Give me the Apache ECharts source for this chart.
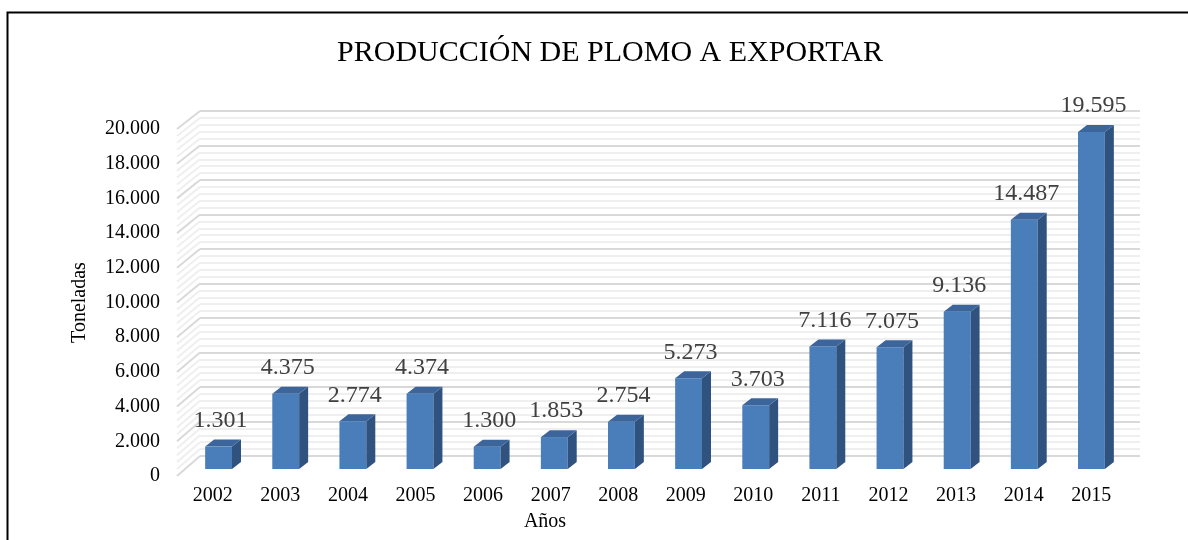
<!DOCTYPE html>
<html>
<head>
<meta charset="utf-8">
<script src="https://cdn.jsdelivr.net/npm/echarts@6/dist/echarts.min.js"></script>
<style>html,body{margin:0;padding:0;background:#fff}#c{width:1188px;height:540px}</style>
</head>
<body>
<div id="c"></div>
<script>
const categories = ['2002','2003','2004','2005','2006','2007','2008','2009','2010','2011','2012','2013','2014','2015'];
const values = [1301, 4375, 2774, 4374, 1300, 1853, 2754, 5273, 3703, 7116, 7075, 9136, 14487, 19595];
const yMin = 0, yMax = 20000, yInterval = 2000, yMinorSplit = 5;

const fmt = v => String(v).replace(/\B(?=(\d{3})+(?!\d))/g, '.');
const FONT = 'Liberation Serif';

// wall lines: one per major and minor tick
const wallTicks = [];
for (let v = yMin; v <= yMax; v += yInterval / yMinorSplit) {
  wallTicks.push([0, v, (v % yInterval === 0) ? 1 : 0]);
}

const chart = echarts.init(document.getElementById('c'));
const option = {
  animation: false,
  backgroundColor: '#fff',
  title: {
    text: 'PRODUCCIÓN DE PLOMO A EXPORTAR',
    left: 605, top: 33, textAlign: 'center',
    textStyle: { fontFamily: FONT, fontSize: 30, fontWeight: 'normal', color: '#000' }
  },
  graphic: [{
    type: 'rect', silent: true,
    shape: { x: 7.5, y: 12.5, width: 1300, height: 700 },
    style: { fill: 'none', stroke: '#000', lineWidth: 2 }
  }],
  grid: [
    { left: 200, right: 48, top: 111, bottom: 84 },   // back wall
    { left: 179, right: 63, top: 129, bottom: 64 },   // front plane (labels)
    { left: 185, right: 63, top: 125, bottom: 71 }    // bar plane
  ],
  xAxis: [
    { gridIndex: 0, type: 'category', data: categories, show: false },
    { gridIndex: 1, type: 'category', data: categories,
      axisLine: { show: false }, axisTick: { show: false }, splitLine: { show: false },
      axisLabel: { interval: 0, margin: 10, fontFamily: FONT, fontSize: 20, color: '#000' },
      name: 'Años', nameLocation: 'middle', nameGap: 36,
      nameTextStyle: { fontFamily: FONT, fontSize: 20, color: '#000', padding: [0, 214, 0, 0] }
    },
    { gridIndex: 2, type: 'category', data: categories, show: false }
  ],
  yAxis: [
    { gridIndex: 0, type: 'value', min: yMin, max: yMax, interval: yInterval,
      axisLabel: { show: false }, axisLine: { show: false }, axisTick: { show: false },
      splitLine: { show: true, lineStyle: { color: '#d9d9d9', width: 2 } },
      minorTick: { show: false, splitNumber: yMinorSplit },
      minorSplitLine: { show: true, lineStyle: { color: '#efefef', width: 2 } }
    },
    { gridIndex: 1, type: 'value', min: yMin, max: yMax, interval: yInterval,
      axisLine: { show: false }, axisTick: { show: false }, splitLine: { show: false },
      axisLabel: { margin: 19, fontFamily: FONT, fontSize: 20, color: '#000', formatter: fmt },
      name: 'Toneladas', nameLocation: 'middle', nameRotate: 90, nameGap: 89,
      nameTextStyle: { fontFamily: FONT, fontSize: 20, color: '#000' }
    },
    { gridIndex: 2, type: 'value', min: yMin, max: yMax, show: false }
  ],
  series: [
    {
      type: 'custom', xAxisIndex: 0, yAxisIndex: 0, clip: false, silent: true, z: 1,
      data: wallTicks,
      renderItem: function (params, api) {
        const cs = params.coordSys;
        const y = api.coord([0, api.value(1)])[1];
        const frac = (y - cs.y) / cs.height;
        const dy = 18 + 2 * frac;
        const major = api.value(2) === 1;
        return {
          type: 'line',
          shape: { x1: cs.x, y1: y, x2: cs.x - 23, y2: y + dy },
          style: { stroke: major ? '#d9d9d9' : '#efefef', lineWidth: 2 }
        };
      }
    },
    {
      type: 'custom', xAxisIndex: 2, yAxisIndex: 2, clip: false, z: 5,
      data: values.map((v, i) => [i, v]),
      renderItem: function (params, api) {
        const i = api.value(0), v = api.value(1);
        const top = api.coord([i, v]);
        const bot = api.coord([i, 0]);
        const w = api.size([1, 0])[0] * 0.4;
        const x0 = top[0] - w / 2, x1 = top[0] + w / 2;
        const dx = 9, dz = -7;
        return {
          type: 'group',
          children: [
            { type: 'rect', shape: { x: x0, y: top[1], width: w, height: bot[1] - top[1] },
              style: { fill: '#4a7ebb' } },
            { type: 'polygon', shape: { points: [[x1, top[1]], [x1 + dx, top[1] + dz], [x1 + dx, bot[1] + dz], [x1, bot[1]]] },
              style: { fill: '#30527f' } },
            { type: 'polygon', shape: { points: [[x0, top[1]], [x0 + dx, top[1] + dz], [x1 + dx, top[1] + dz], [x1, top[1]]] },
              style: { fill: '#3b659b' } },
            { type: 'text', style: { text: fmt(v), x: top[0] + 2, y: top[1] - 26,
              align: 'center', verticalAlign: 'middle',
              font: '24px "Liberation Serif"', fill: '#404040' } }
          ]
        };
      }
    }
  ]
};
chart.setOption(option);
</script>
</body>
</html>
